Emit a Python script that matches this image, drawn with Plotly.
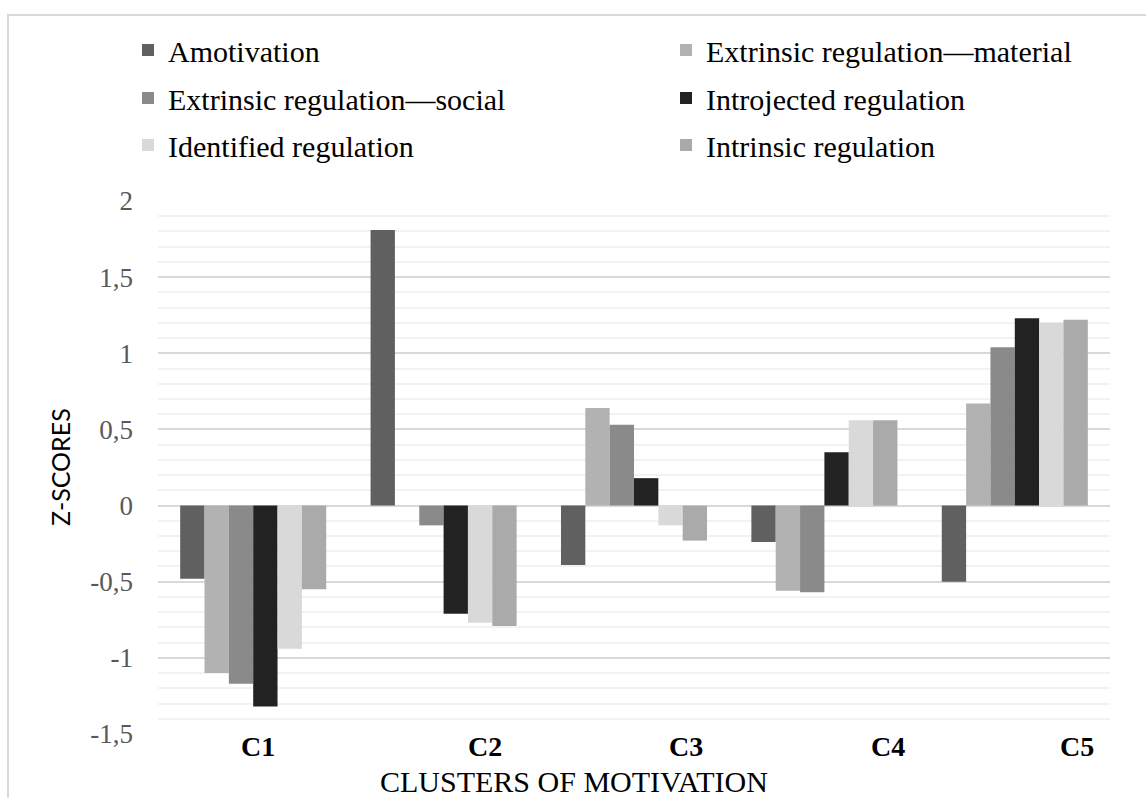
import plotly.graph_objects as go

categories = ["C1", "C2", "C3", "C4", "C5"]
series_names = [
    "Amotivation",
    "Extrinsic regulation\u2014material",
    "Extrinsic regulation\u2014social",
    "Introjected regulation",
    "Identified regulation",
    "Intrinsic regulation",
]
amotivation = [-0.48, 1.81, -0.39, -0.24, -0.50]
extrinsic_material = [-1.10, 0.0, 0.64, -0.56, 0.67]
extrinsic_social = [-1.17, -0.13, 0.53, -0.57, 1.04]
introjected = [-1.32, -0.71, 0.18, 0.35, 1.23]
identified = [-0.94, -0.77, -0.13, 0.56, 1.20]
intrinsic = [-0.55, -0.79, -0.23, 0.56, 1.22]

tick_vals = [-1.5, -1, -0.5, 0, 0.5, 1, 1.5, 2]
tick_text = ["-1,5", "-1", "-0,5", "0", "0,5", "1", "1,5", "2"]
x_title = "CLUSTERS OF MOTIVATION"
y_title = "Z-SCORES"

colors = ["#606060", "#b2b2b2", "#8a8a8a", "#222222", "#d9d9d9", "#aaaaaa"]
values = [amotivation, extrinsic_material, extrinsic_social, introjected, identified, intrinsic]

W, H = 1146, 798
L, R, T, B = 158, 36, 201, 64
pw = W - L - R
ph = H - T - B

def px_x(p):
    return (p - L) / pw

def px_y(p):
    return (H - B - p) / ph

# legend grid: 2 columns x 3 rows (pixel anchors)
col_px = [128, 666]
row_px = [50, 98, 145]
legend_ids = ["legend"] + ["legend%d" % i for i in range(2, 7)]

fig = go.Figure()
for name, vals, col, lg in zip(series_names, values, colors, legend_ids):
    fig.add_trace(go.Bar(x=categories, y=vals, name=name, marker_color=col,
                         marker_line_width=0, legend=lg))

legend_font = dict(family="Liberation Serif", size=30, color="#000000")
legend_layout = {}
for i, lg in enumerate(legend_ids):
    legend_layout[lg] = dict(orientation="v", x=px_x(col_px[i % 2]), xanchor="left",
                             y=px_y(row_px[i // 2]), yanchor="middle",
                             font=legend_font, itemwidth=30, bgcolor="rgba(0,0,0,0)")

# category labels placed under the groups (as in the reference)
label_px = [258, 485, 686, 888, 1077]
annotations = []
for cat, p in zip(categories, label_px):
    annotations.append(dict(text="<b>" + cat + "</b>", x=px_x(p), y=px_y(746), xref="paper", yref="paper",
                            showarrow=False, xanchor="center", yanchor="middle",
                            font=dict(family="Liberation Serif", size=28, color="#000000")))
annotations.append(dict(text=x_title, x=px_x(574), y=px_y(781), xref="paper", yref="paper",
                        showarrow=False, xanchor="center", yanchor="middle",
                        font=dict(family="Liberation Serif", size=30, color="#000000")))
annotations.append(dict(text=y_title, x=px_x(60), y=px_y(467), xref="paper", yref="paper",
                        showarrow=False, xanchor="center", yanchor="middle", textangle=-90,
                        font=dict(family="Lato", size=25, color="#000000")))

fig.update_layout(
    width=W, height=H,
    margin=dict(l=L, r=R, t=T, b=B, pad=0),
    paper_bgcolor="#ffffff", plot_bgcolor="#ffffff",
    barmode="group", bargap=0.233, bargroupgap=0,
    showlegend=True,
    xaxis=dict(showticklabels=False, showgrid=False, zeroline=False, showline=False, ticks=""),
    yaxis=dict(range=[-1.5, 2], tickvals=tick_vals, ticktext=tick_text,
               tickfont=dict(family="Liberation Serif", size=27, color="#595959"),
               showgrid=True, gridcolor="#d9d9d9", gridwidth=1.5,
               zeroline=True, zerolinecolor="#d9d9d9", zerolinewidth=1.5,
               showline=False, ticks="", ticklabelstandoff=24,
               minor=dict(dtick=0.1, showgrid=True, gridcolor="#f2f2f2", gridwidth=1.5)),
    annotations=annotations,
    shapes=[dict(type="rect", xref="paper", yref="paper",
                 x0=px_x(8), x1=px_x(1160), y0=px_y(810), y1=px_y(15),
                 line=dict(color="#d9d9d9", width=2), fillcolor="rgba(0,0,0,0)", layer="below")],
    **legend_layout,
)

fig.write_html("out.html", config={"displayModeBar": False},
               post_script="document.body.style.margin='0';document.body.style.overflow='hidden';")
